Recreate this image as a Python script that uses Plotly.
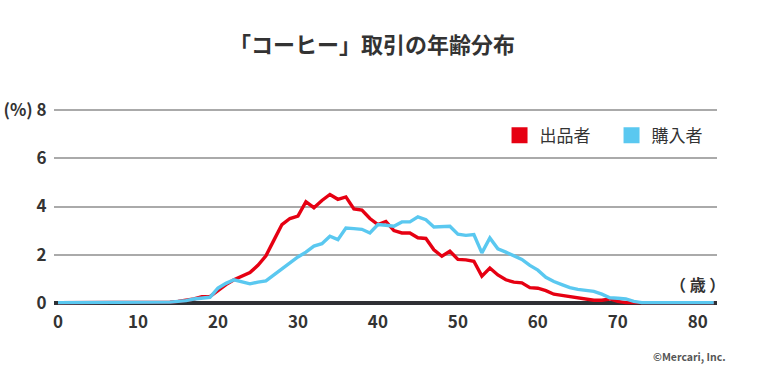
import plotly.graph_objects as go

ages = list(range(0, 83))

seller = [0]*14 + [
    0.02, 0.05, 0.10, 0.15, 0.25, 0.25, 0.50, 0.75, 0.95, 1.10,   # 14-23
    1.25, 1.55, 1.95, 2.60, 3.25, 3.50, 3.60, 4.20, 3.95, 4.25,   # 24-33
    4.50, 4.30, 4.40, 3.90, 3.85, 3.50, 3.25, 3.38, 3.00, 2.90,   # 34-43
    2.90, 2.70, 2.67, 2.20, 1.93, 2.14, 1.80, 1.78, 1.72, 1.10,   # 44-53
    1.44, 1.15, 0.95, 0.85, 0.82, 0.62, 0.60, 0.50, 0.35, 0.30,   # 54-63
    0.25, 0.20, 0.15, 0.10, 0.10, 0.15, 0.05,                     # 64-70
] + [0]*12

buyer = [0]*14 + [
    0.02, 0.05, 0.08, 0.15, 0.20, 0.22, 0.60, 0.80, 0.95, 0.85,   # 14-23
    0.78, 0.85, 0.90, 1.15, 1.40, 1.65, 1.90, 2.10, 2.35, 2.45,   # 24-33
    2.76, 2.62, 3.10, 3.08, 3.05, 2.90, 3.25, 3.22, 3.18, 3.36,   # 34-43
    3.36, 3.57, 3.45, 3.15, 3.15, 3.18, 2.85, 2.80, 2.83, 2.07,   # 44-53
    2.69, 2.24, 2.10, 1.95, 1.80, 1.55, 1.35, 1.05, 0.88, 0.75,   # 54-63
    0.62, 0.55, 0.50, 0.47, 0.35, 0.20, 0.18, 0.15, 0.05,         # 64-72
] + [0]*10

series_names = ["出品者", "購入者"]
series_colors = ["#e60012", "#5ac8f0"]

y_tickvals = [0, 2, 4, 6, 8]
y_ticktext = ["0", "2", "4", "6", "(%) 8"]
x_tickvals = [0, 10, 20, 30, 40, 50, 60, 70, 80]

title_text = "「コーヒー」取引の年齢分布"
unit_text = "（ 歳 ）"
credit_text = "©Mercari, Inc."

FONT = "Noto Sans CJK JP"

fig = go.Figure()
for name, vals, col in zip(series_names, [seller, buyer], series_colors):
    fig.add_trace(go.Scatter(x=ages, y=vals, mode="lines", name=name,
                             line=dict(color=col, width=3.4), showlegend=False,
                             hoverinfo="skip"))
for name, col in zip(series_names, series_colors):
    fig.add_trace(go.Scatter(x=[None], y=[None], mode="markers", name=name,
                             marker=dict(symbol="square", size=18, color=col,
                                         line=dict(width=0)),
                             showlegend=True))

fig.update_layout(
    width=780, height=374,
    paper_bgcolor="white", plot_bgcolor="white",
    margin=dict(l=54, r=63, t=108, b=69),
    font=dict(family=FONT, color="#333333"),
    title=dict(text=title_text, x=0.477, xanchor="center",
               y=0.88, yanchor="middle",
               font=dict(size=22, color="#333333", weight="bold")),
    showlegend=True,
    legend=dict(orientation="h", x=0.672, xanchor="left", y=0.86, yanchor="middle",
                font=dict(size=17, color="#333333"), entrywidth=67,
                entrywidthmode="pixels", bgcolor="rgba(0,0,0,0)",
                itemclick=False, itemdoubleclick=False),
    xaxis=dict(range=[-0.5, 82.4], tickvals=x_tickvals, showgrid=False,
               ticks="outside", ticklen=2, tickcolor="rgba(0,0,0,0)",
               automargin=False,
               tickfont=dict(size=17, color="#333333", weight="bold"),
               zeroline=False, showline=False, fixedrange=True),
    yaxis=dict(range=[-0.1, 8.1], tickvals=y_tickvals, ticktext=y_ticktext,
               showgrid=True, gridcolor="#aaaaaa", gridwidth=1.5,
               zeroline=True, zerolinecolor="#2f3035", zerolinewidth=3.5,
               ticks="outside", ticklen=3, tickcolor="rgba(0,0,0,0)",
               tickfont=dict(size=17, color="#333333", weight="bold"),
               automargin=False, showline=False, fixedrange=True),
    annotations=[
        dict(text=unit_text, xref="paper", yref="paper",
             x=0.970, y=0.108, xanchor="center", yanchor="middle", showarrow=False,
             font=dict(size=16, color="#333333", weight="bold")),
        dict(text=credit_text, xref="paper", yref="paper",
             x=0.959, y=-0.261, xanchor="center", yanchor="middle", showarrow=False,
             font=dict(size=10.5, color="#555555", weight="bold")),
    ],
)

fig.write_html("out.html", config={"displayModeBar": False},
               post_script="document.body.style.margin='0';")
